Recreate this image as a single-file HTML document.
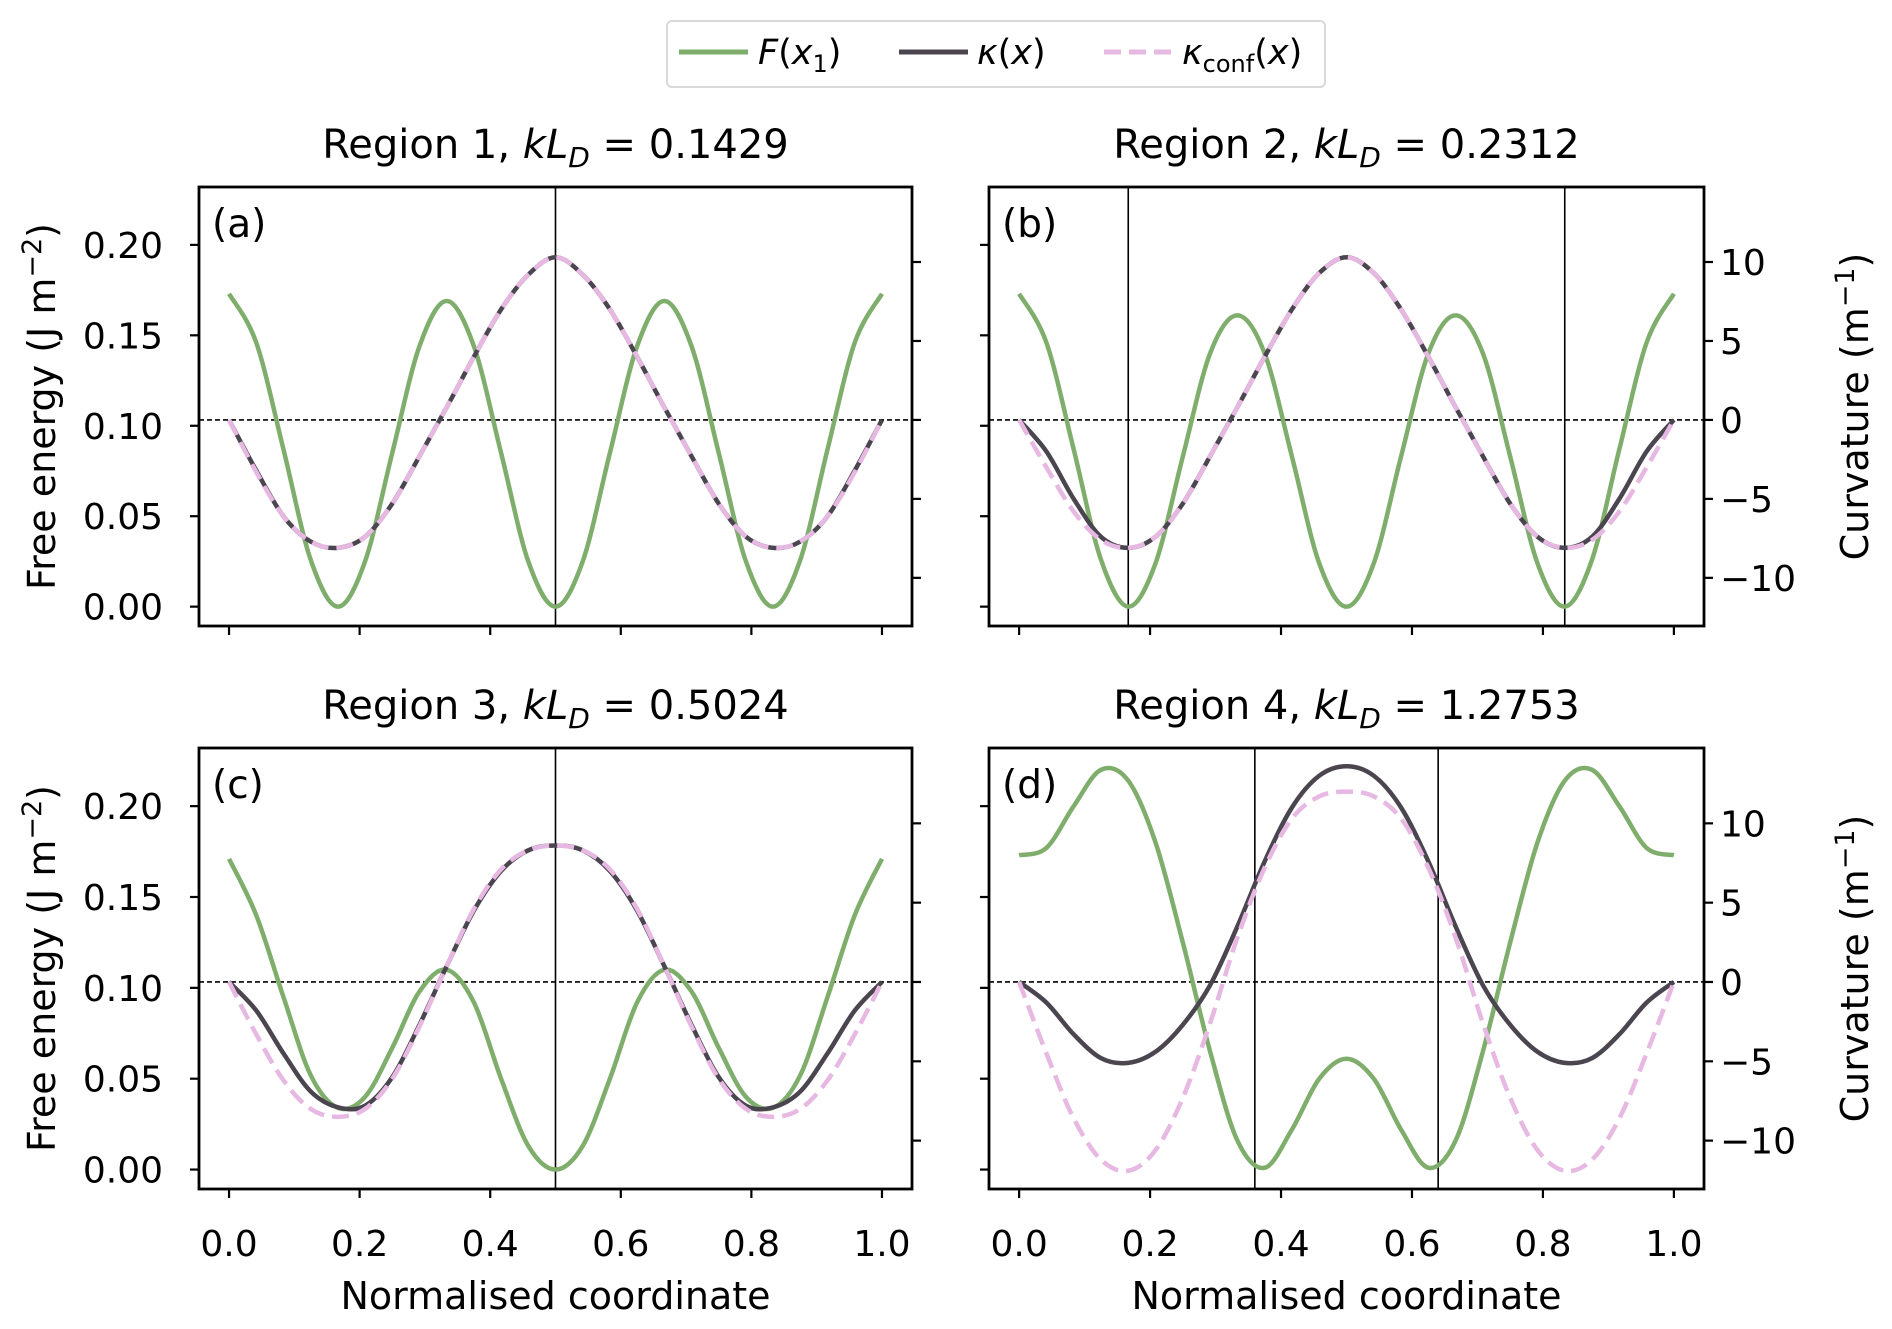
<!DOCTYPE html>
<html><head><meta charset="utf-8">
<style>
html,body{margin:0;padding:0;background:#fff;}
svg{display:block;font-family:"DejaVu Sans","Liberation Sans",sans-serif;}
</style></head>
<body>
<svg id="chart" width="1892" height="1329" viewBox="0 0 1892 1329" xmlns="http://www.w3.org/2000/svg">
<g>
<rect x="667" y="21" width="658" height="66" rx="5" fill="#fff" stroke="#d9d9d9" stroke-width="2"/>
<line x1="679" y1="52" x2="748" y2="52" stroke="#7fae6c" stroke-width="5"/>
<text x="758" y="64" font-size="35"><tspan font-style="italic">F</tspan>(<tspan font-style="italic">x</tspan><tspan font-size="24" dy="8">1</tspan><tspan dy="-8">)</tspan></text>
<line x1="899" y1="52" x2="968" y2="52" stroke="#4b4550" stroke-width="5"/>
<text x="977" y="64" font-size="35"><tspan font-style="italic">κ</tspan>(<tspan font-style="italic">x</tspan>)</text>
<line x1="1104" y1="52" x2="1173" y2="52" stroke="#e6b8e2" stroke-width="5" stroke-dasharray="17,8"/>
<text x="1182" y="64" font-size="35"><tspan font-style="italic">κ</tspan><tspan font-size="24" dy="8">conf</tspan><tspan dy="-8">(</tspan><tspan font-style="italic">x</tspan>)</text>
</g>
</svg>
<script>
// x samples: i/24, i=0..24
const xs = Array.from({length:25},(_, i)=>i/24);
const fA = [0.173,0.146,0.087,0.026,0.000,0.025,0.085,0.144,0.169,0.144,0.085,0.025,0.000,0.025,0.085,0.144,0.169,0.144,0.085,0.025,0.000,0.026,0.087,0.146,0.173];
const kA = [0,-3.2,-6.1,-7.7,-8.1,-7.4,-5.3,-2.3,0.8,4.0,7.0,9.2,10.3,9.2,7.0,4.0,0.8,-2.3,-5.3,-7.4,-8.1,-7.7,-6.1,-3.2,0];
const cA = [0,-3.3,-6.1,-7.7,-8.1,-7.4,-5.3,-2.3,0.8,4.0,7.0,9.2,10.3,9.2,7.0,4.0,0.8,-2.3,-5.3,-7.4,-8.1,-7.7,-6.1,-3.3,0];
const fB = [0.173,0.146,0.087,0.026,0.000,0.024,0.083,0.140,0.161,0.140,0.083,0.024,0.000,0.024,0.083,0.140,0.161,0.140,0.083,0.024,0.000,0.026,0.087,0.146,0.173];
const kB = [0,-2.0,-5.0,-7.4,-8.1,-7.4,-5.3,-2.3,0.8,4.0,7.0,9.3,10.3,9.3,7.0,4.0,0.8,-2.3,-5.3,-7.4,-8.1,-7.4,-5.0,-2.0,0];
const cB = [0,-3.0,-5.8,-7.6,-8.1,-7.4,-5.3,-2.3,0.8,4.0,7.0,9.3,10.3,9.3,7.0,4.0,0.8,-2.3,-5.3,-7.4,-8.1,-7.6,-5.8,-3.0,0];
const fC = [0.171,0.140,0.095,0.052,0.034,0.040,0.067,0.098,0.110,0.092,0.050,0.013,0.000,0.013,0.050,0.092,0.110,0.098,0.067,0.040,0.034,0.052,0.095,0.140,0.171];
const kC = [0,-1.8,-4.5,-6.9,-7.9,-7.8,-6.0,-2.7,1.0,4.5,7.0,8.3,8.6,8.3,7.0,4.5,1.0,-2.7,-6.0,-7.8,-7.9,-6.9,-4.5,-1.8,0];
const cC = [0,-3.3,-6.2,-8.0,-8.5,-8.0,-6.1,-2.8,1.0,4.6,7.1,8.3,8.6,8.3,7.1,4.6,1.0,-2.8,-6.1,-8.0,-8.5,-8.0,-6.2,-3.3,0];
const fD = [0.173,0.177,0.200,0.220,0.214,0.180,0.125,0.065,0.016,0.001,0.022,0.050,0.061,0.050,0.022,0.001,0.016,0.065,0.125,0.180,0.214,0.220,0.200,0.177,0.173];
const kD = [0,-1.3,-3.3,-4.8,-5.1,-4.4,-2.7,-0.2,3.5,7.6,11.0,13.0,13.6,13.0,11.0,7.6,3.5,-0.2,-2.7,-4.4,-5.1,-4.8,-3.3,-1.3,0];
const cD = [0,-4.5,-8.6,-11.2,-11.9,-10.6,-7.3,-2.6,2.8,7.2,10.3,11.7,12.0,11.7,10.3,7.2,2.8,-2.6,-7.3,-10.6,-11.9,-11.2,-8.6,-4.5,0];
const titles = ["Region 1","Region 2","Region 3","Region 4"];
const kLD = ["0.1429","0.2312","0.5024","1.2753"];
const panelLetters = ["(a)","(b)","(c)","(d)"];
const vlines = [[0.5],[1/6,5/6],[0.5],[0.36,0.64]];
const leftTicks = [0,0.05,0.10,0.15,0.20];
const leftTickLabels = ["0.00","0.05","0.10","0.15","0.20"];
const rightTicks = [-10,-5,0,5,10];
const rightTickLabels = ["−10","−5","0","5","10"];
const xTicks = [0,0.2,0.4,0.6,0.8,1.0];
const xTickLabels = ["0.0","0.2","0.4","0.6","0.8","1.0"];
const series = [[fA,kA,cA],[fB,kB,cB],[fC,kC,cC],[fD,kD,cD]];

const NS="http://www.w3.org/2000/svg";
const svg=document.getElementById('chart');
function mk(tag,attrs,parent){const e=document.createElementNS(NS,tag);for(const k in attrs)e.setAttribute(k,attrs[k]);(parent||svg).appendChild(e);return e;}
function smooth(pts){
  let d="M"+pts[0][0].toFixed(2)+","+pts[0][1].toFixed(2);
  for(let i=0;i<pts.length-1;i++){
    const p0=pts[Math.max(i-1,0)],p1=pts[i],p2=pts[i+1],p3=pts[Math.min(i+2,pts.length-1)];
    const c1=[p1[0]+(p2[0]-p0[0])/6,p1[1]+(p2[1]-p0[1])/6];
    const c2=[p2[0]-(p3[0]-p1[0])/6,p2[1]-(p3[1]-p1[1])/6];
    d+="C"+c1[0].toFixed(2)+","+c1[1].toFixed(2)+" "+c2[0].toFixed(2)+","+c2[1].toFixed(2)+" "+p2[0].toFixed(2)+","+p2[1].toFixed(2);
  }
  return d;
}
const boxes=[{L:199,R:912,T:187,B:626},{L:989,R:1704,T:187,B:626},{L:199,R:912,T:748,B:1189},{L:989,R:1704,T:748,B:1189}];
boxes.forEach((b,p)=>{
  const g=mk('g',{});
  
  
  const xS=v=>b.L+(v+0.046)/(1.092)*(b.R-b.L);
  const yL=v=>b.B-(v+0.0107)/(0.2427)*(b.B-b.T);
  const yR=v=>b.B-(v+13.05)/(27.8)*(b.B-b.T);
  const t=mk('text',{x:(b.L+b.R)/2,y:b.T-29,'font-size':40,'text-anchor':'middle'},g);
  
  
  t.innerHTML=titles[p]+', <tspan font-style="italic">kL</tspan><tspan font-style="italic" font-size="28" dy="9">D</tspan><tspan dy="-9"> = </tspan>'+kLD[p];
  const hl=mk('line',{x1:b.L,x2:b.R,y1:yR(0),y2:yR(0),stroke:'#000','stroke-width':1.6,'stroke-dasharray':'5,3'},g);
  
  
  vlines[p].forEach(v=>{
    const vl=mk('line',{x1:xS(v),x2:xS(v),y1:b.T,y2:b.B,stroke:'#000','stroke-width':1.6},g);
    
    
  });
  const [f,k,c]=series[p];
  const pf=mk('path',{d:smooth(xs.map((x,i)=>[xS(x),yL(f[i])])),fill:'none',stroke:'#7fae6c','stroke-width':4.5},g);
  
  
  const pk=mk('path',{d:smooth(xs.map((x,i)=>[xS(x),yR(k[i])])),fill:'none',stroke:'#4b4550','stroke-width':4.5},g);
  
  
  const pc=mk('path',{d:smooth(xs.map((x,i)=>[xS(x),yR(c[i])])),fill:'none',stroke:'#e6b8e2','stroke-width':4.5,'stroke-dasharray':'17,8'},g);
  
  
  const fr=mk('rect',{x:b.L,y:b.T,width:b.R-b.L,height:b.B-b.T,fill:'none',stroke:'#000','stroke-width':2.8},g);
  
  
  leftTicks.forEach((v,i)=>{
    mk('line',{x1:b.L-9,x2:b.L,y1:yL(v),y2:yL(v),stroke:'#000','stroke-width':2.2},g);
    if(p%2===0){
      const tl=mk('text',{x:b.L-36,y:yL(v)+13,'font-size':36,'text-anchor':'end'},g);
      
      
      tl.textContent=leftTickLabels[i];
    }
  });
  rightTicks.forEach((v,i)=>{
    mk('line',{x1:b.R,x2:b.R+9,y1:yR(v),y2:yR(v),stroke:'#000','stroke-width':2.2},g);
    if(p%2===1){
      const tl=mk('text',{x:b.R+16,y:yR(v)+13,'font-size':36},g);
      
      
      tl.textContent=rightTickLabels[i];
    }
  });
  xTicks.forEach((v,i)=>{
    mk('line',{x1:xS(v),x2:xS(v),y1:b.B,y2:b.B+9,stroke:'#000','stroke-width':2.2},g);
    if(p>=2){
      const tl=mk('text',{x:xS(v),y:b.B+67,'font-size':36,'text-anchor':'middle'},g);
      
      
      tl.textContent=xTickLabels[i];
    }
  });
  const pl=mk('text',{x:b.L+13,y:b.T+50,'font-size':39},g);
  
  
  pl.textContent=panelLetters[p];
  const cy=(b.T+b.B)/2;
  if(p%2===0){
    const yt=mk('text',{x:0,y:0,'font-size':38,'text-anchor':'middle',transform:`translate(55,${cy}) rotate(-90)`},g);
    
    
    yt.innerHTML='Free energy (J m<tspan font-size="27" dy="-14">−2</tspan><tspan dy="14">)</tspan>';
  } else {
    const yt=mk('text',{x:0,y:0,'font-size':38,'text-anchor':'middle',transform:`translate(1868,${cy}) rotate(-90)`},g);
    
    
    yt.innerHTML='Curvature (m<tspan font-size="27" dy="-14">−1</tspan><tspan dy="14">)</tspan>';
  }
  if(p>=2){
    const xt=mk('text',{x:(b.L+b.R)/2,y:1309,'font-size':38,'text-anchor':'middle'},g);
    
    
    xt.textContent='Normalised coordinate';
  }
});
</script>
</body></html>
